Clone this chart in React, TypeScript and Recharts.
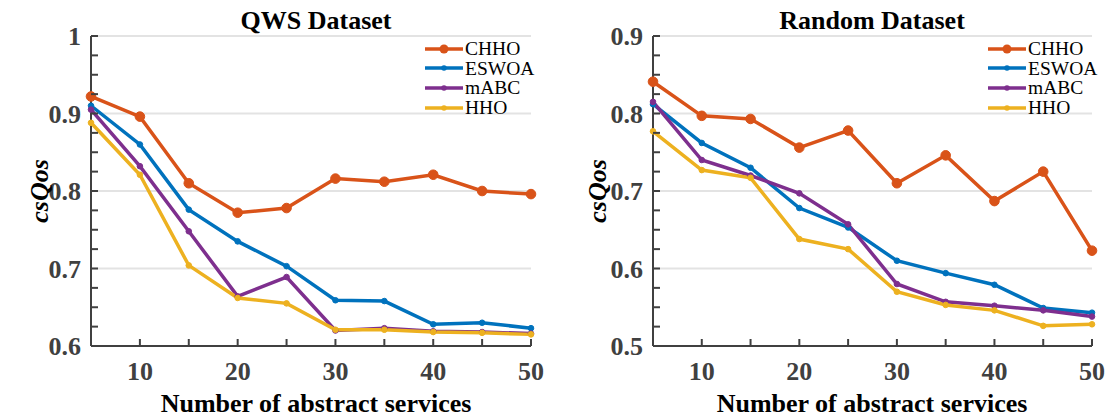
import { CartesianGrid, Line, LineChart, XAxis, YAxis } from "recharts";

const services = [5, 10, 15, 20, 25, 30, 35, 40, 45, 50];
const seriesNames = ["CHHO", "ESWOA", "mABC", "HHO"];
const colors = ["#D95319", "#0072BD", "#7E2F8E", "#EDB120"];

// QWS dataset
const qwsCHHO = [0.922, 0.896, 0.81, 0.772, 0.778, 0.816, 0.812, 0.821, 0.8, 0.796];
const qwsESWOA = [0.91, 0.86, 0.776, 0.735, 0.703, 0.659, 0.658, 0.628, 0.63, 0.623];
const qwsMABC = [0.905, 0.832, 0.748, 0.664, 0.689, 0.62, 0.623, 0.619, 0.618, 0.616];
const qwsHHO = [0.888, 0.821, 0.704, 0.662, 0.655, 0.621, 0.621, 0.618, 0.617, 0.615];

// Random dataset
const rndCHHO = [0.841, 0.797, 0.793, 0.756, 0.778, 0.71, 0.746, 0.687, 0.725, 0.623];
const rndESWOA = [0.812, 0.762, 0.73, 0.678, 0.653, 0.61, 0.594, 0.579, 0.549, 0.543];
const rndMABC = [0.815, 0.74, 0.72, 0.697, 0.657, 0.58, 0.557, 0.552, 0.546, 0.538];
const rndHHO = [0.777, 0.727, 0.717, 0.638, 0.625, 0.57, 0.553, 0.546, 0.526, 0.528];

const xTicks = [5, 10, 15, 20, 25, 30, 35, 40, 45, 50];
const qwsYTicks = [0.6, 0.625, 0.65, 0.675, 0.7, 0.725, 0.75, 0.775, 0.8, 0.825, 0.85, 0.875, 0.9, 0.925, 0.95, 0.975, 1];
const rndYTicks = [0.5, 0.525, 0.55, 0.575, 0.6, 0.625, 0.65, 0.675, 0.7, 0.725, 0.75, 0.775, 0.8, 0.825, 0.85, 0.875, 0.9];
const qwsMajor = [0.7, 0.8, 0.9, 1];
const rndMajor = [0.6, 0.7, 0.8, 0.9];

const font = "'Liberation Serif', 'Times New Roman', serif";
const axisColor = "#404040";

function buildRows(vals: number[][]) {
  return services.map((n, i) => {
    const row: any = { n };
    seriesNames.forEach((s, k) => {
      row[s] = vals[k][i];
    });
    return row;
  });
}

const qwsData = buildRows([qwsCHHO, qwsESWOA, qwsMABC, qwsHHO]);
const rndData = buildRows([rndCHHO, rndESWOA, rndMABC, rndHHO]);

const isMajor = (v: number) => Math.abs(v * 10 - Math.round(v * 10)) < 1e-6;

const XTick = (props: any) => {
  const { x, y, payload } = props;
  const v = payload.value;
  return (
    <g>
      <line x1={x} x2={x} y1={y} y2={y - 7} stroke={axisColor} strokeWidth={2} />
      {v % 10 === 0 && (
        <text x={x} y={y + 34} textAnchor="middle" fontFamily={font} fontWeight="bold" fontSize={26} fill={axisColor}>
          {v}
        </text>
      )}
    </g>
  );
};

const YTick = (props: any) => {
  const { x, y, payload } = props;
  const v = payload.value;
  return (
    <g>
      <line x1={x} x2={x + 7} y1={y} y2={y} stroke={axisColor} strokeWidth={2} />
      {isMajor(v) && (
        <text x={x - 10} y={y + 9} textAnchor="end" fontFamily={font} fontWeight="bold" fontSize={26} fill={axisColor}>
          {Number(v.toFixed(1)).toString()}
        </text>
      )}
    </g>
  );
};

const LegendBox = ({ left }: { left: number }) => (
  <div
    style={{
      position: "absolute",
      left,
      top: 39,
      fontFamily: font,
      fontSize: 19.5,
      color: "#000",
      lineHeight: "19.6px",
    }}
  >
    {seriesNames.map((s, k) => (
      <div key={s} style={{ display: "flex", alignItems: "center", height: 19.6 }}>
        <svg width={40} height={12}>
          <line x1={1} x2={39} y1={6} y2={6} stroke={colors[k]} strokeWidth={3.5} />
          <circle cx={20} cy={6} r={k === 0 ? 4.5 : 2.8} fill={colors[k]} />
        </svg>
        <span style={{ marginLeft: 1 }}>{s}</span>
      </div>
    ))}
  </div>
);

type PanelProps = {
  data: any[];
  left: number;
  marginLeft: number;
  marginRight: number;
  domain: [number, number];
  yTicks: number[];
  major: number[];
  title: string;
  titleX: number;
  legendLeft: number;
  yLabelX: number;
};

function Panel(p: PanelProps) {
  return (
    <div style={{ position: "absolute", left: p.left, top: 0, width: 555, height: 419 }}>
      <LineChart
        width={555}
        height={419}
        data={p.data}
        margin={{ top: 36, right: p.marginRight, bottom: 33, left: p.marginLeft }}
      >
        <CartesianGrid vertical={false} horizontalValues={p.major} stroke="#e3e3e3" strokeWidth={2} />
        <XAxis
          dataKey="n"
          type="number"
          domain={[5, 50]}
          ticks={xTicks}
          height={40}
          tickSize={0}
          tickMargin={0}
          tickLine={false}
          tick={XTick}
          axisLine={{ stroke: axisColor, strokeWidth: 2 }}
          interval={0}
        />
        <YAxis
          type="number"
          domain={p.domain}
          ticks={p.yTicks}
          width={60}
          tickSize={0}
          tickMargin={0}
          tickLine={false}
          tick={YTick}
          axisLine={{ stroke: axisColor, strokeWidth: 2 }}
          interval={0}
          allowDataOverflow
        />
        {seriesNames.map((s, k) => (
          <Line
            key={s}
            dataKey={s}
            stroke={colors[k]}
            strokeWidth={3.5}
            dot={{ r: k === 0 ? 4.8 : 2.8, fill: colors[k], stroke: colors[k], strokeWidth: 1 }}
            activeDot={false}
            isAnimationActive={false}
          />
        ))}
      </LineChart>
      <LegendBox left={p.legendLeft} />
      <div
        style={{
          position: "absolute",
          left: p.titleX - 150,
          width: 300,
          top: 6,
          textAlign: "center",
          fontFamily: font,
          fontWeight: "bold",
          fontSize: 26,
          lineHeight: "30px",
          color: "#000",
        }}
      >
        {p.title}
      </div>
      <div
        style={{
          position: "absolute",
          left: p.yLabelX - 60,
          top: 191 - 15,
          width: 120,
          height: 30,
          textAlign: "center",
          transform: "rotate(-90deg)",
          fontFamily: font,
          fontWeight: "bold",
          fontStyle: "italic",
          fontSize: 26,
          lineHeight: "30px",
          color: "#000",
        }}
      >
        csQos
      </div>
      <div
        style={{
          position: "absolute",
          left: p.titleX - 250,
          width: 500,
          top: 389,
          textAlign: "center",
          fontFamily: font,
          fontWeight: "bold",
          fontSize: 26,
          lineHeight: "30px",
          color: "#000",
        }}
      >
        Number of abstract services
      </div>
    </div>
  );
}

export default function App() {
  return (
    <div style={{ position: "absolute", left: 0, top: 0, width: 1110, height: 419, background: "#fff" }}>
      <Panel
        data={qwsData}
        left={0}
        marginLeft={31}
        marginRight={24}
        domain={[0.6, 1]}
        yTicks={qwsYTicks}
        major={qwsMajor}
        title="QWS Dataset"
        titleX={316}
        legendLeft={424}
        yLabelX={40}
      />
      <Panel
        data={rndData}
        left={555}
        marginLeft={38}
        marginRight={18}
        domain={[0.5, 0.9]}
        yTicks={rndYTicks}
        major={rndMajor}
        title="Random Dataset"
        titleX={317}
        legendLeft={432}
        yLabelX={43}
      />
    </div>
  );
}
